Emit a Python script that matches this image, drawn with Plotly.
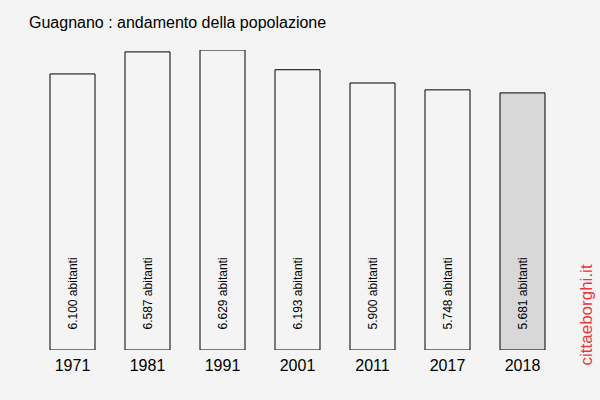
import plotly.graph_objects as go

years = ["1971", "1981", "1991", "2001", "2011", "2017", "2018"]
population = [6100, 6587, 6629, 6193, 5900, 5748, 5681]
labels = ["6.100 abitanti", "6.587 abitanti", "6.629 abitanti", "6.193 abitanti",
          "5.900 abitanti", "5.748 abitanti", "5.681 abitanti"]

bg = "#f4f4f4"
colors = [bg] * (len(years) - 1) + ["#d8d8d8"]

fig = go.Figure()
fig.add_trace(go.Bar(
    x=years, y=population,
    marker=dict(color=colors, line=dict(color="#000000", width=1)),
    width=0.6, hoverinfo="skip",
))

for i, lab in enumerate(labels):
    fig.add_annotation(x=i, y=0, text=lab, textangle=-90, showarrow=False,
                       yanchor="bottom", yshift=18,
                       font=dict(family="Liberation Sans, Arial", size=12, color="#000"))

fig.add_annotation(xref="paper", yref="paper", x=0, y=1, xshift=-8, yshift=28,
                   xanchor="left", yanchor="middle", showarrow=False,
                   text="Guagnano : andamento della popolazione",
                   font=dict(family="Liberation Sans, Arial", size=16, color="#000"))
fig.add_annotation(xref="paper", yref="paper", x=1, y=0, xshift=26, yshift=-18,
                   xanchor="center", yanchor="bottom", showarrow=False, textangle=-90,
                   text="cittaeborghi.it",
                   font=dict(family="Liberation Sans, Arial", size=17, color="#e8383d"))

fig.update_layout(
    width=600, height=400,
    margin=dict(l=35, r=40, t=50, b=50),
    paper_bgcolor=bg, plot_bgcolor=bg,
    showlegend=False,
    bargap=0.4,
    xaxis=dict(type="category", range=[-0.5, len(years) - 0.5], showgrid=False,
               zeroline=False, showline=False, ticks="", ticklabelstandoff=4,
               tickfont=dict(family="Liberation Sans, Arial", size=16, color="#000")),
    yaxis=dict(range=[0, 6629], visible=False, showgrid=False, zeroline=False),
)

fig.write_html("out.html", config={"displayModeBar": False},
               post_script="document.body.style.margin='0';")
